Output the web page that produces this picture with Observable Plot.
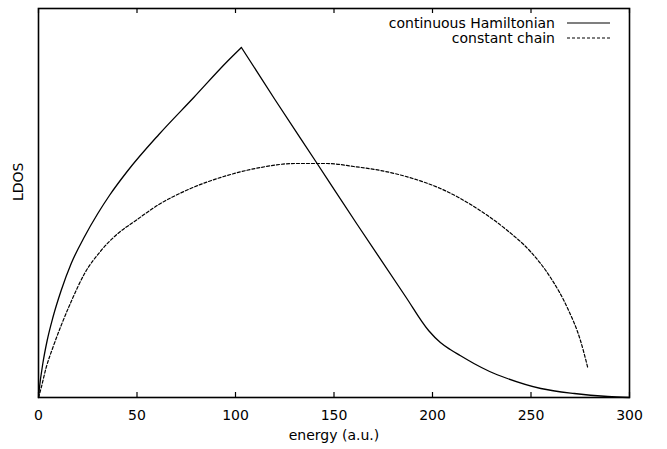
<!DOCTYPE html>
<html>
<head>
<meta charset="utf-8">
<script src="https://cdn.jsdelivr.net/npm/d3@7"></script>
<script src="https://cdn.jsdelivr.net/npm/@observablehq/plot@0.6"></script>
<style>
  html, body { margin: 0; padding: 0; background: #fff; }
  #chart { width: 667px; height: 449px; }
</style>
</head>
<body>
<div id="chart"></div>
<script>
// ---- data (LDOS in arbitrary units) ----
const seriesNames = ["continuous Hamiltonian", "constant chain"];

const hamEnergy = [0, 0.5, 2.2, 4.4, 7.3, 11.5, 16.6, 23.4, 30.1, 36, 45, 61.1, 78.8, 95.8, 103,
                   120, 141.1, 161.8, 186.3, 198, 204, 209, 214, 221, 229, 238, 255, 272, 289, 300];
const hamLdos   = [0, 10, 34, 57, 80, 107, 134, 161, 184, 202, 226, 263, 300, 336, 350,
                   298, 235, 173, 101, 67, 55, 48, 42, 34, 26, 19, 9, 4, 1, 0];
const hamPeakIndex = 14; // the cusp at ~103

const chainEnergy = [0, 1.4, 3.9, 7.3, 11.5, 16.6, 23.4, 31.8, 40.3, 48.7, 61.1, 75.5, 97.5, 112.7,
                     130, 146.5, 160, 173.6, 190, 204, 214.2, 221, 238, 249.7, 259.9, 268.4, 275.1, 278.8];
const chainLdos   = [0, 10, 30, 50, 72, 96, 124, 147, 164, 176, 193, 207.5, 223, 230,
                     234, 234, 231, 227, 219, 209, 199, 191, 167, 146, 120, 90, 57, 30];

const xTicks = [0, 50, 100, 150, 200, 250, 300];
const xLabel = "energy (a.u.)";
const yLabel = "LDOS";

// ---- tables built from the arrays ----
const ham = hamEnergy.flatMap((e, i) => {
  const rows = [];
  if (i <= hamPeakIndex) rows.push({energy: e, ldos: hamLdos[i], seg: "rise"});
  if (i >= hamPeakIndex) rows.push({energy: e, ldos: hamLdos[i], seg: "fall"});
  return rows;
});
const chain = chainEnergy.map((e, i) => ({energy: e, ldos: chainLdos[i]}));

const W = 667, H = 449;
const mL = 38, mR = 38, mT = 8, mB = 52;
const frameH = H - mT - mB;
const tickLen = 5;

const legendStyles = [
  {dash: null},
  {dash: "3,2"}
];

function legend(index, scales, values, dimensions) {
  const right = dimensions.width - dimensions.marginRight;
  const top = dimensions.marginTop;
  const g = d3.create("svg:g");
  seriesNames.forEach((name, i) => {
    const cy = top + 15 + i * 15;
    g.append("text")
      .attr("x", right - 74)
      .attr("y", cy)
      .attr("dy", "0.35em")
      .attr("text-anchor", "end")
      .attr("font-size", 14)
      .attr("fill", "#000")
      .text(name);
    const ln = g.append("line")
      .attr("x1", right - 62).attr("x2", right - 19)
      .attr("y1", cy).attr("y2", cy)
      .attr("stroke", "#000")
      .attr("stroke-width", 1.2);
    if (legendStyles[i].dash) ln.attr("stroke-dasharray", legendStyles[i].dash);
  });
  return g.node();
}

const chart = Plot.plot({
  width: W,
  height: H,
  marginLeft: mL,
  marginRight: mR,
  marginTop: mT,
  marginBottom: mB,
  style: {fontFamily: "'DejaVu Sans', sans-serif", fontSize: "14px", background: "#fff", color: "#000"},
  x: {domain: [0, 300], ticks: xTicks, tickSize: 0, tickPadding: 13, tickFormat: d => String(d), label: null},
  y: {domain: [0, 389], axis: null},
  marks: [
    // inward ticks, bottom and top
    Plot.ruleX(xTicks, {insetTop: frameH - tickLen, stroke: "#000", strokeWidth: 1.2}),
    Plot.ruleX(xTicks, {insetBottom: frameH - tickLen, stroke: "#000", strokeWidth: 1.2}),
    Plot.line(chain, {x: "energy", y: "ldos", curve: "monotone-x", stroke: "#000", strokeWidth: 1.2, strokeDasharray: "3,2"}),
    Plot.line(ham, {x: "energy", y: "ldos", z: "seg", curve: "monotone-x", stroke: "#000", strokeWidth: 1.3}),
    Plot.frame({stroke: "#000", strokeWidth: 1.6}),
    Plot.text([xLabel], {text: d => d, frameAnchor: "bottom", lineAnchor: "middle", dy: 38, fontSize: 14, fill: "#000"}),
    Plot.text([yLabel], {text: d => d, frameAnchor: "left", rotate: -90, dx: -19.5, dy: -2, fontSize: 14, fill: "#000"}),
    legend
  ]
});
document.getElementById("chart").appendChild(chart);
</script>
</body>
</html>
